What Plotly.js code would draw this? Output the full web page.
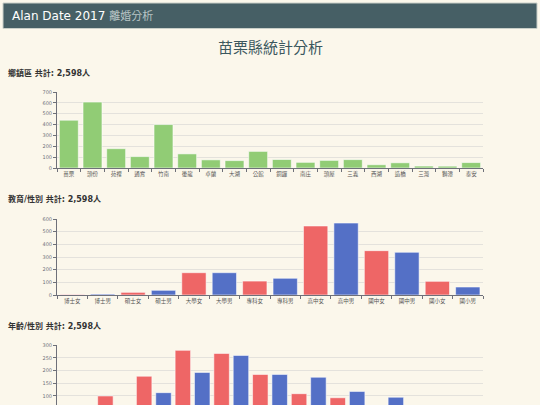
<!DOCTYPE html>
<html>
<head>
<meta charset="utf-8">
<script src="https://cdn.plot.ly/plotly-3.0.1.min.js"></script>
<style>
html,body{margin:0;padding:0;background:#fbf7eb;overflow:hidden;}
#chart{width:540px;height:405px;}
</style>
</head>
<body>
<div id="chart"></div>
<script>
// ---- data ----
const townships = ['苗栗','頭份','苑裡','通霄','竹南','後龍','卓蘭','大湖','公館','銅鑼','南庄','頭屋','三義','西湖','造橋','三灣','獅潭','泰安'];
const townshipCounts = [440,607,178,105,400,130,75,68,153,78,52,70,77,30,48,18,17,50];

const eduLabels = ['博士女','博士男','碩士女','碩士男','大學女','大學男','專科女','專科男','高中女','高中男','國中女','國中男','國小女','國小男'];
const eduCounts = [4,7,21,37,176,176,110,132,545,568,350,337,108,63];

const ageLabels = ['未滿20女','未滿20男','20~24女','20~24男','25~29女','25~29男','30~34女','30~34男','35~39女','35~39男','40~44女','40~44男','45~49女','45~49男','50~54女','50~54男','55~59女','55~59男','60~64女','60~64男','65以上女','65以上男'];
const ageCounts = [6,3,100,42,178,113,280,193,268,260,185,185,109,174,93,118,52,95,22,42,12,28];

const sectionTitles = ['鄉鎮區 共計: 2,598人','教育/性別 共計: 2,598人','年齡/性別 共計: 2,598人'];
const pageTitle = '苗栗縣統計分析';

// ---- styling ----
const H = 405, W = 540;
const GREEN = '#91cc75', RED = '#ee6666', BLUE = '#5470c6';
const FONT = 'DejaVu Sans, "Noto Sans CJK TC", sans-serif';
const py = p => (H - p) / H;
const px = p => p / W;
const genderColor = labels => labels.map(l => l.endsWith('女') ? RED : BLUE);

const barLine = {color: 'rgba(255,255,255,0.55)', width: 1};
const traces = [
  {type:'bar', x: townships, y: townshipCounts, xaxis:'x', yaxis:'y',
   marker:{color: GREEN, line: barLine}},
  {type:'bar', x: eduLabels, y: eduCounts, xaxis:'x2', yaxis:'y2',
   marker:{color: genderColor(eduLabels), line: barLine}},
  {type:'bar', x: ageLabels, y: ageCounts, xaxis:'x3', yaxis:'y3',
   marker:{color: genderColor(ageLabels), line: barLine}}
];

const xDom = [px(57), px(483)];
function xa(anchor){
  return {domain: xDom, anchor: anchor, showline:true, linecolor:'#6e7079', linewidth:1,
    ticks:'outside', tickson:'boundaries', ticklen:3, tickcolor:'#6e7079',
    tickfont:{size:5.5, color:'#555', family:FONT}, showgrid:false, fixedrange:true};
}
function ya(anchor, dom, range, step){
  return {domain: dom, anchor: anchor, range: range, dtick: step, tick0:0,
    showline:true, linecolor:'#6e7079', linewidth:1, ticks:'outside', ticklen:3, tickcolor:'#6e7079',
    tickfont:{size:5, color:'#6e7079', family:FONT}, showgrid:true, gridcolor:'#e4e2dc', gridwidth:1,
    zeroline:false, fixedrange:true};
}
// third chart continues below the window: its visible part starts at the window's bottom edge
const ageTop = 300, agePxPerUnit = 76 / 300;
const ageBottom = ageTop - (H - 345.3) / agePxPerUnit;
const x3 = xa('y3');
x3.showline = false; x3.ticks = ''; x3.showticklabels = false;

const layout = {
  width: W, height: H, margin:{l:0,r:0,t:0,b:0},
  paper_bgcolor:'#fbf7eb', plot_bgcolor:'rgba(0,0,0,0)',
  font:{family: FONT},
  showlegend:false, bargap:0.2,
  xaxis: xa('y'), yaxis: ya('x', [py(168), py(92)], [0,700], 100),
  xaxis2: xa('y2'), yaxis2: ya('x2', [py(295), py(219)], [0,600], 100),
  xaxis3: x3, yaxis3: ya('x3', [0, py(345.3)], [ageBottom, ageTop], 50),
  shapes: [
    {type:'rect', xref:'paper', yref:'paper', x0:px(3), x1:px(537), y0:py(28.5), y1:py(3),
     fillcolor:'#465f65', line:{color:'#c9cfc8', width:1}, layer:'below'}
  ],
  annotations: [
    {xref:'paper', yref:'paper', x:px(10), y:py(15.5), xanchor:'left', yanchor:'middle', showarrow:false,
     text:'Alan Date 2017 <span style="color:#b9c5c5;font-size:11px">離婚分析</span>',
     font:{size:12, color:'#ffffff', family:FONT}},
    {xref:'paper', yref:'paper', x:0.5, y:py(47), xanchor:'center', yanchor:'middle', showarrow:false,
     text: pageTitle, font:{size:15, color:'#3c585e', family:'"Noto Sans CJK TC", sans-serif'}},
    {xref:'paper', yref:'paper', x:px(6), y:py(72.5), xanchor:'left', yanchor:'middle', showarrow:false,
     text:'<b>'+sectionTitles[0]+'</b>', font:{size:8, color:'#333', family:FONT}},
    {xref:'paper', yref:'paper', x:px(6), y:py(199), xanchor:'left', yanchor:'middle', showarrow:false,
     text:'<b>'+sectionTitles[1]+'</b>', font:{size:8, color:'#333', family:FONT}},
    {xref:'paper', yref:'paper', x:px(6), y:py(325.5), xanchor:'left', yanchor:'middle', showarrow:false,
     text:'<b>'+sectionTitles[2]+'</b>', font:{size:8, color:'#333', family:FONT}}
  ]
};

Plotly.newPlot('chart', traces, layout, {displayModeBar:false, staticPlot:true});
</script>
</body>
</html>
